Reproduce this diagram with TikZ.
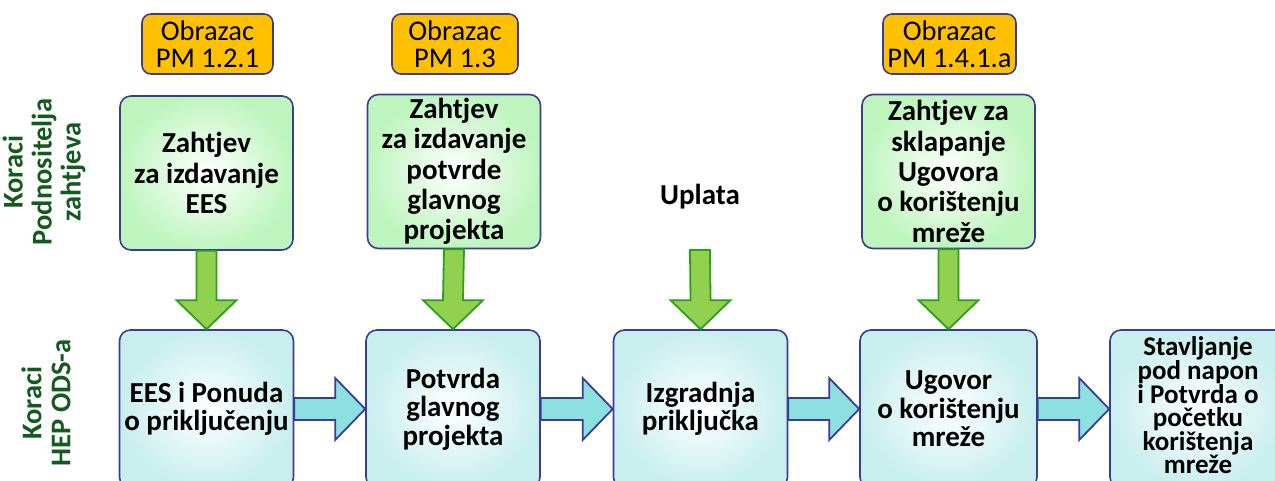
\documentclass[tikz,border=0pt]{standalone}
\usepackage{fontspec}
\setmainfont{Carlito}
\usetikzlibrary{calc}
\definecolor{bordblue}{RGB}{60,60,150}
\definecolor{formfill}{RGB}{255,192,0}
\definecolor{greenin}{RGB}{255,255,255}
\definecolor{greenout}{RGB}{190,245,190}
\definecolor{bluein}{RGB}{255,255,255}
\definecolor{blueout}{RGB}{200,238,238}
\definecolor{arrgreen}{RGB}{146,208,80}
\definecolor{arrgreenbord}{RGB}{44,160,28}
\definecolor{arrblue}{RGB}{140,224,224}
\definecolor{lblgreen}{RGB}{20,90,30}
\tikzset{
  formbox/.style={draw=bordblue, line width=1.6pt, fill=formfill, rounded corners=9pt,
    minimum width=131pt, minimum height=60pt, inner sep=0pt, align=center,
    font=\fontsize{28.5}{27}\selectfont},
  reqbox/.style={draw=bordblue, line width=1.6pt, rounded corners=11pt,
    shading=radial, inner color=greenin, outer color=greenout,
    minimum width=173pt, minimum height=154pt, inner sep=0pt, align=center,
    font=\fontsize{29}{30.3}\selectfont\bfseries},
  odsbox/.style={draw=bordblue, line width=1.6pt, rounded corners=11pt,
    shading=radial, inner color=bluein, outer color=blueout,
    minimum width=174pt, minimum height=158pt, inner sep=0pt, align=center,
    font=\fontsize{29}{28.5}\selectfont\bfseries},
  garrow/.style={draw=arrgreenbord, line width=1.8pt, fill=arrgreen, line join=miter},
  barrow/.style={draw=bordblue, line width=1.8pt, fill=arrblue, line join=miter},
  sidelbl/.style={rotate=90, align=center, text=lblgreen,
    font=\fontsize{28.5}{29}\selectfont\bfseries},
  plain/.style={align=center, font=\fontsize{29}{30}\selectfont\bfseries}
}
\begin{document}
\begin{tikzpicture}[x=1pt,y=-1pt]
\useasboundingbox (0,0) rectangle (1275,481);
\clip (0,0) rectangle (1275,481);
\fill[white] (0,0) rectangle (1275,481);

% side labels
\node[sidelbl] (lbl1) at (44,172) {Koraci\\Podnositelja\\zahtjeva};
\node[sidelbl] (lbl2) at (46,403) {Koraci\\HEP ODS-a};

% form boxes
\node[formbox] (f1) at (207.5,44) {Obrazac\\PM 1.2.1};
\node[formbox, minimum width=126pt] (f2) at (455,44) {Obrazac\\PM 1.3};
\node[formbox, minimum width=133pt] (f3) at (949.5,44) {Obrazac\\PM 1.4.1.a};

% request boxes
\node[reqbox] (g1) at (206.5,173) {Zahtjev\\za izdavanje\\EES};
\node[reqbox] (g2) at (454,171.5) {Zahtjev\\za izdavanje\\potvrde\\glavnog\\projekta};
\node[plain] (upl) at (700,197) {Uplata};
\coordinate (u) at (700,250);
\node[reqbox] (g4) at (948.5,171.5) {Zahtjev za\\sklapanje\\Ugovora\\o korištenju\\mreže};

% ODS boxes
\node[odsbox] (b1) at (206.5,409) {EES i Ponuda\\o priključenju};
\node[odsbox] (b2) at (453,409) {Potvrda\\glavnog\\projekta};
\node[odsbox] (b3) at (700.5,409) {Izgradnja\\priključka};
\node[odsbox, minimum width=177pt] (b4) at (948.5,409) {Ugovor\\o korištenju\\mreže};
\node[odsbox, minimum width=176pt] (b5) at (1198,409) {};
\node[align=center, inner sep=0pt, font=\fontsize{27}{23.5}\selectfont\bfseries] (b5t) at (1198,405) {Stavljanje\\pod napon\\i Potvrda o\\početku\\korištenja\\mreže};

% green down arrows
\foreach \s/\t in {g1/b1, g2/b2, u/b3, g4/b4}{
  \draw[garrow] ($(\s.south)+(-10,0)$) -- ($(\s.south)+(10,0)$)
    -- ($(\t.north)+(10,-29)$) -- ($(\t.north)+(30,-29)$) -- (\t.north)
    -- ($(\t.north)+(-30,-29)$) -- ($(\t.north)+(-10,-29)$) -- cycle;
}

% blue right arrows
\foreach \s/\t in {b1/b2, b2/b3, b3/b4, b4/b5}{
  \draw[barrow] ($(\s.east)+(0,-11)$) -- ($(\t.west)+(-30,-11)$)
    -- ($(\t.west)+(-30,-31)$) -- (\t.west) -- ($(\t.west)+(-30,31)$)
    -- ($(\t.west)+(-30,11)$) -- ($(\s.east)+(0,11)$) -- cycle;
}
\end{tikzpicture}
\end{document}
